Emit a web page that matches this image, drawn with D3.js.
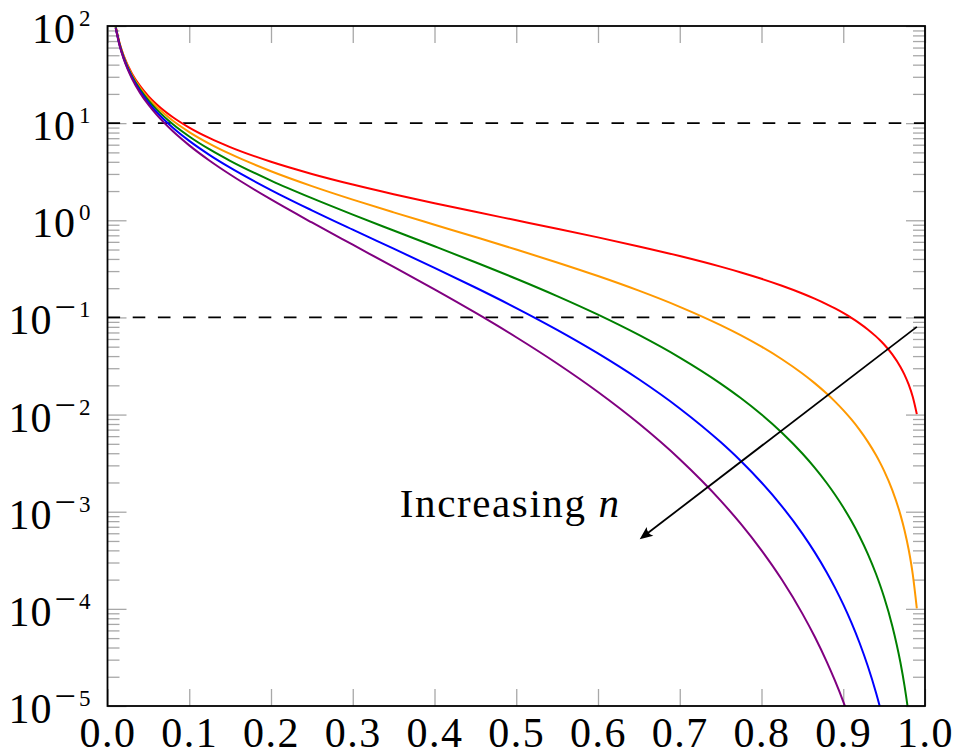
<!DOCTYPE html>
<html>
<head>
<meta charset="utf-8">
<script src="https://cdn.jsdelivr.net/npm/d3@7"></script>
<style>
  html, body { margin: 0; padding: 0; background: #fff; }
  svg { display: block; }
  text { font-family: "Liberation Serif", "DejaVu Serif", serif; fill: #000; }
</style>
</head>
<body>
<svg id="chart" width="960" height="756"></svg>
<script>
// ---- data ----
const xs = [0.01,0.015,0.02,0.03,0.04,0.05,0.06,0.08,0.1,0.125,0.15,0.2,0.25,0.3,0.35,0.4,0.45,0.5,0.55,0.6,0.65,0.7,0.75,0.775,0.8,0.825,0.85,0.865,0.88,0.89,0.9,0.91,0.92,0.93,0.94,0.945,0.95,0.96,0.97,0.975,0.98,0.985,0.99];
const redVals = [99,65.67,49,32.33,24,19,15.67,11.5,9,7,5.667,4,3,2.333,1.857,1.5,1.222,1,0.8182,0.6667,0.5385,0.4286,0.3333,0.2903,0.25,0.2121,0.1765,0.1561,0.1364,0.1236,0.1111,0.0989,0.08696,0.07527,0.06383,0.0582,0.05263,0.04167,0.03093,0.02564,0.02041,0.01523,0.0101];
const orangeVals = [98.01,64.68,48.02,31.36,23.04,18.05,14.73,10.58,8.1,6.125,4.817,3.2,2.25,1.633,1.207,0.9,0.6722,0.5,0.3682,0.2667,0.1885,0.1286,0.08333,0.06532,0.05,0.03712,0.02647,0.02107,0.01636,0.0136,0.01111,0.008901,0.006957,0.005269,0.00383,0.003201,0.002632,0.001667,0.000928,0.000641,0.000408,0.000228,0.000101];
const greenVals = [97.03,63.71,47.06,30.42,22.12,17.15,13.84,9.734,7.29,5.359,4.094,2.56,1.688,1.143,0.7846,0.54,0.3697,0.25,0.1657,0.1067,0.06596,0.03857,0.02083,0.0147,0.01,0.006496,0.003971,0.002844,0.001964,0.0014955,0.001111,0.0008011,0.0005565,0.0003688,0.0002298,0.000176,0.0001316,6.667e-5,2.784e-5,1.603e-5,8.163e-6,3.43e-6,1.01e-6];
const blueVals = [96.06,62.76,46.12,29.51,21.23,16.29,13.01,8.955,6.561,4.689,3.48,2.048,1.266,0.8003,0.51,0.324,0.2033,0.125,0.07456,0.04267,0.02309,0.01157,0.005208,0.003307,0.002,0.001137,0.0005956,0.000384,0.0002356,0.0001645,0.0001111,7.21e-5,4.452e-5,2.582e-5,1.379e-5,9.68e-6,6.58e-6,2.67e-6,8.35e-7,4.0e-7,1.63e-7,5.1e-8,1e-8];
const purpleVals = [95.1,61.82,45.19,28.62,20.38,15.48,12.23,8.239,5.905,4.103,2.958,1.638,0.9492,0.5602,0.3315,0.1944,0.1118,0.0625,0.03355,0.01707,0.00808,0.003471,0.001302,0.000744,0.0004,0.000199,8.934e-5,5.184e-5,2.828e-5,1.81e-5,1.111e-5,6.49e-6,3.56e-6,1.81e-6,8.3e-7,5.3e-7,3.3e-7,1.07e-7,2.5e-8,1e-8,3.3e-9,7.7e-10,1e-10];
const seriesNames = ["n=1","n=2","n=3","n=4","n=5"];
const xTicks = [0,0.1,0.2,0.3,0.4,0.5,0.6,0.7,0.8,0.9,1.0];
const yExponents = [2,1,0,-1,-2,-3,-4,-5];
const refLines = [10, 0.1];
const arrowFrom = [0.99, 0.08];
const arrowTo = [0.651, 5.2e-4];
const annoText = "Increasing ";
const annoVar = "n";
const annoPos = [0.4926, 8.8e-4];

// ---- layout ----
const svg = d3.select("#chart");
const L = 107.5, T = 26, R = 925, B = 706;
const x = d3.scaleLinear().domain([0, 1]).range([L, R]);
const y = d3.scaleLog().domain([1e-5, 1e2]).range([B, T]);
const colors = ["#ff0000", "#ff9900", "#008000", "#0000ff", "#800080"];
const tickColor = "#a8a8a8";

const minorVals = [];
for (let k = -5; k < 2; k++) for (let m = 2; m <= 9; m++) minorVals.push(m * Math.pow(10, k));
const majorVals = yExponents.map(e => Math.pow(10, e));

function styleAxis(g) {
  g.select(".domain").remove();
  g.selectAll(".tick line").attr("stroke", tickColor).attr("stroke-width", 1.3);
}

// y minor ticks (left and right)
svg.append("g").attr("transform", `translate(${L},0)`)
  .call(d3.axisLeft(y).tickValues(minorVals).tickSize(-12).tickFormat(""))
  .call(styleAxis);
svg.append("g").attr("transform", `translate(${R},0)`)
  .call(d3.axisRight(y).tickValues(minorVals).tickSize(-12).tickFormat(""))
  .call(styleAxis);
// y major ticks
svg.append("g").attr("transform", `translate(${L},0)`)
  .call(d3.axisLeft(y).tickValues(majorVals).tickSize(-19).tickFormat(""))
  .call(styleAxis);
svg.append("g").attr("transform", `translate(${R},0)`)
  .call(d3.axisRight(y).tickValues(majorVals).tickSize(-19).tickFormat(""))
  .call(styleAxis);
// x ticks top and bottom
const xb = svg.append("g").attr("transform", `translate(0,${B})`)
  .call(d3.axisBottom(x).tickValues(xTicks).tickSize(-17).tickPadding(12).tickFormat(d3.format(".1f")))
  .call(styleAxis);
xb.selectAll(".tick text")
  .attr("font-family", '"Liberation Serif", serif')
  .attr("font-size", 42).attr("fill", "#000").attr("dy", "0.7em")
  .attr("letter-spacing", 1.5);
svg.append("g").attr("transform", `translate(0,${T})`)
  .call(d3.axisTop(x).tickValues(xTicks).tickSize(-17).tickFormat(""))
  .call(styleAxis);

// y labels 10^e
const yl = svg.append("g");
yExponents.forEach(e => {
  const ty = y(Math.pow(10, e));
  const t = yl.append("text").attr("x", L - 17).attr("y", ty + 17)
    .attr("text-anchor", "end").attr("font-size", 42);
  t.append("tspan").attr("letter-spacing", 1).text("10");
  if (e < 0) {
    t.append("tspan").attr("font-size", 38).attr("dy", -14).attr("dx", 2).text("\u2212");
    t.append("tspan").attr("font-size", 23).attr("dy", -3).attr("dx", 3).text(String(-e));
  } else {
    t.append("tspan").attr("font-size", 23).attr("dy", -17).attr("dx", 3).text(String(e));
  }
});

// clip
svg.append("defs").append("clipPath").attr("id", "plotclip")
  .append("rect").attr("x", L).attr("y", T).attr("width", R - L).attr("height", B - T);

const plot = svg.append("g").attr("clip-path", "url(#plotclip)");

// reference dashed lines
plot.selectAll("line.ref").data(refLines).enter().append("line")
  .attr("class", "ref")
  .attr("x1", x(0)).attr("x2", x(1))
  .attr("y1", d => y(d)).attr("y2", d => y(d))
  .attr("stroke", "#000").attr("stroke-width", 1.8)
  .attr("stroke-dasharray", "12.6 12.6");

// curves
const allSeries = [redVals, orangeVals, greenVals, blueVals, purpleVals];
const line = d3.line().x(d => x(d[0])).y(d => y(d[1])).curve(d3.curveMonotoneX);
plot.selectAll("path.curve").data(allSeries.map((vals, i) => ({ name: seriesNames[i], pts: xs.map((xv, j) => [xv, vals[j]]), i })))
  .enter().append("path")
  .attr("class", "curve")
  .attr("d", d => line(d.pts))
  .attr("fill", "none")
  .attr("stroke", d => colors[d.i])
  .attr("stroke-width", 2)
  .attr("stroke-linejoin", "round");

// frame
svg.append("rect").attr("x", L).attr("y", T).attr("width", R - L).attr("height", B - T)
  .attr("fill", "none").attr("stroke", "#000").attr("stroke-width", 1.8);

// arrow
const ax0 = x(arrowFrom[0]), ay0 = y(arrowFrom[1]);
const ax1 = x(arrowTo[0]), ay1 = y(arrowTo[1]);
const ang = Math.atan2(ay1 - ay0, ax1 - ax0);
const headLen = 13;
svg.append("line")
  .attr("x1", ax0).attr("y1", ay0)
  .attr("x2", ax1 - Math.cos(ang) * headLen * 0.6).attr("y2", ay1 - Math.sin(ang) * headLen * 0.6)
  .attr("stroke", "#000").attr("stroke-width", 1.8);
svg.append("path")
  .attr("d", `M0,0 L${-headLen},${-5.5} Q${-headLen * 0.7},0 ${-headLen},5.5 Z`)
  .attr("transform", `translate(${ax1},${ay1}) rotate(${ang * 180 / Math.PI})`)
  .attr("fill", "#000");

// annotation
const at = svg.append("text").attr("x", x(annoPos[0])).attr("y", y(annoPos[1]))
  .attr("text-anchor", "middle").attr("font-size", 41).attr("letter-spacing", 1.6);
at.append("tspan").text(annoText);
at.append("tspan").attr("font-style", "italic").text(annoVar);
</script>
</body>
</html>
